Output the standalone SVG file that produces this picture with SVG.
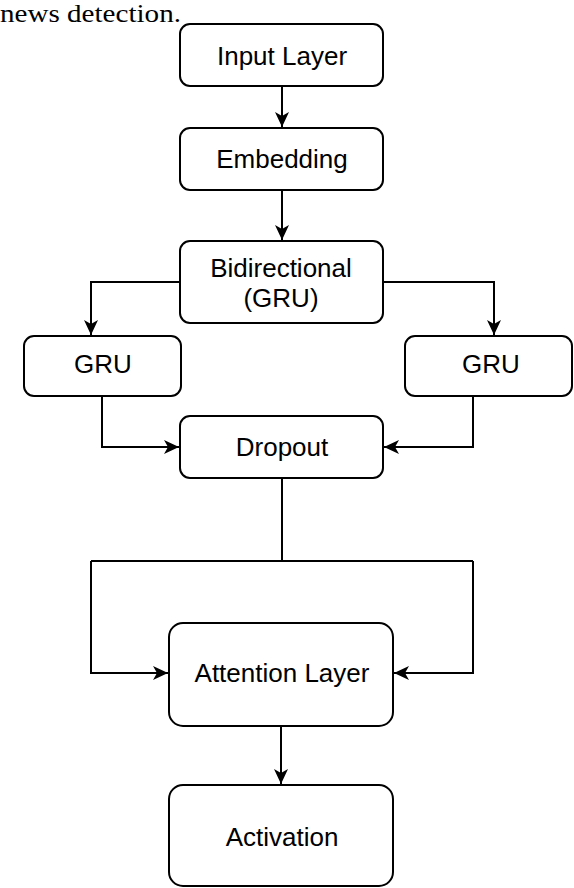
<svg xmlns="http://www.w3.org/2000/svg" width="574" height="888" viewBox="0 0 574 888">
<defs>
<style>
.box{fill:#fff;stroke:#000;stroke-width:2}
.lbl{font-family:"Liberation Sans",Arial,sans-serif;font-size:26px;fill:#000;text-anchor:middle}
.ln{fill:none;stroke:#000;stroke-width:2}
</style>
<marker id="ar" markerUnits="userSpaceOnUse" markerWidth="18" markerHeight="18" viewBox="0 0 18 18" refX="16" refY="9" orient="auto">
<path d="M1,2 L16,9 L1,16 L5,9 Z" fill="#000"/>
</marker>
</defs>
<rect width="574" height="888" fill="#fff"/>
<text x="0" y="22" font-family="'Liberation Serif','Times New Roman',serif" font-size="26" textLength="181" lengthAdjust="spacingAndGlyphs" fill="#000">news detection.</text>
<g id="connectors">
<path class="ln" d="M282,86 V127" marker-end="url(#ar)"/>
<path class="ln" d="M282,190 V240" marker-end="url(#ar)"/>
<path class="ln" d="M180,282 H91 V335" marker-end="url(#ar)"/>
<path class="ln" d="M383,282 H494 V335" marker-end="url(#ar)"/>
<path class="ln" d="M102,396 V447 H179" marker-end="url(#ar)"/>
<path class="ln" d="M473,396 V447 H384" marker-end="url(#ar)"/>
<path class="ln" d="M282,478 V561"/>
<path class="ln" d="M91,561 H473"/>
<path class="ln" d="M91,561 V673 H168" marker-end="url(#ar)"/>
<path class="ln" d="M473,561 V673 H394" marker-end="url(#ar)"/>
<path class="ln" d="M281,726 V784" marker-end="url(#ar)"/>
</g>
<g id="input"><rect class="box" x="180" y="24" width="203" height="62" rx="10"/><text class="lbl" x="282" y="65">Input Layer</text></g>
<g id="embedding"><rect class="box" x="180" y="128" width="203" height="62" rx="10"/><text class="lbl" x="282" y="168">Embedding</text></g>
<g id="bidirectional"><rect class="box" x="180" y="241" width="203" height="82" rx="10"/><text class="lbl" x="281" y="277">Bidirectional</text><text class="lbl" x="281" y="307">(GRU)</text></g>
<g id="gru-left"><rect class="box" x="24" y="336" width="157" height="60" rx="10"/><text class="lbl" x="103" y="373">GRU</text></g>
<g id="gru-right"><rect class="box" x="405" y="336" width="167" height="60" rx="10"/><text class="lbl" x="491" y="373">GRU</text></g>
<g id="dropout"><rect class="box" x="180" y="416" width="203" height="62" rx="10"/><text class="lbl" x="282" y="456">Dropout</text></g>
<g id="attention"><rect class="box" x="169" y="623" width="224" height="103" rx="14"/><text class="lbl" x="282" y="682">Attention Layer</text></g>
<g id="activation"><rect class="box" x="169" y="785" width="224" height="101" rx="14"/><text class="lbl" x="282" y="846">Activation</text></g>
</svg>
